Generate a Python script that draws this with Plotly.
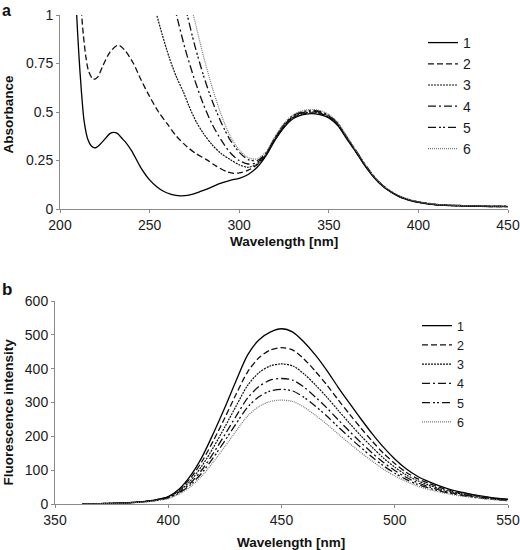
import plotly.graph_objects as go

W, H = 520, 550

# ---------------- Panel a: absorbance ----------------
labels = ["1", "2", "3", "4", "5", "6"]

tail_x = [315, 320, 325, 330, 335, 340, 345, 350, 355, 360, 365, 370, 375, 380,
          385, 390, 395, 400, 405, 410, 420, 430, 440, 450]

a1_x = [208.5, 209.3, 210.5, 212, 213.5, 215.5, 217.5, 219.5, 222, 225, 228, 230, 232,
        235, 237, 240, 245, 250, 254, 258, 262, 267, 272, 278, 284, 289, 295, 300, 305, 310]
a1_y = [1.15, 1.0, 0.8, 0.6, 0.45, 0.36, 0.325, 0.315, 0.33, 0.36, 0.39, 0.395, 0.39,
        0.36, 0.34, 0.30, 0.215, 0.15, 0.115, 0.09, 0.076, 0.068, 0.072, 0.089, 0.11,
        0.131, 0.148, 0.158, 0.178, 0.215]
a1_tail = [0.275, 0.355, 0.42, 0.465, 0.485, 0.492, 0.487, 0.47, 0.43, 0.362, 0.295, 0.225,
           0.165, 0.118, 0.085, 0.06, 0.045, 0.034, 0.027, 0.022, 0.017, 0.015, 0.013, 0.012]

a2_x = [211.2, 212.1, 213, 214.5, 216, 218.6, 221, 224, 228, 232.5, 236, 241, 245, 250,
        255, 260, 265, 271, 276, 282, 287, 293, 297, 300, 305, 310]
a2_y = [1.12, 1.0, 0.9, 0.78, 0.71, 0.668, 0.68, 0.74, 0.81, 0.845, 0.82, 0.75, 0.67, 0.58,
        0.5, 0.437, 0.375, 0.32, 0.285, 0.253, 0.222, 0.193, 0.184, 0.186, 0.2, 0.228]
a2_tail = [0.28, 0.358, 0.424, 0.469, 0.489, 0.496, 0.491, 0.473, 0.433, 0.365, 0.297, 0.227,
           0.166, 0.119, 0.086, 0.061, 0.046, 0.035, 0.028, 0.022, 0.017, 0.015, 0.013, 0.012]

a3_x = [252, 254, 257, 261, 265, 269, 272, 276, 280, 285, 290, 295, 300, 305, 310]
a3_y = [1.07, 1.0, 0.9, 0.78, 0.68, 0.6, 0.53, 0.45, 0.39, 0.33, 0.285, 0.255, 0.228, 0.215, 0.232]
a3_tail = [0.283, 0.362, 0.428, 0.473, 0.493, 0.5, 0.495, 0.476, 0.436, 0.367, 0.299, 0.229,
           0.168, 0.12, 0.087, 0.062, 0.047, 0.036, 0.028, 0.023, 0.018, 0.016, 0.014, 0.013]

a4_x = [263.5, 265, 270, 275, 280, 285, 290, 295, 300, 305, 310]
a4_y = [1.06, 1.0, 0.82, 0.67, 0.54, 0.435, 0.355, 0.29, 0.25, 0.232, 0.24]
a4_tail = [0.287, 0.366, 0.432, 0.477, 0.497, 0.504, 0.499, 0.48, 0.439, 0.37, 0.301, 0.231,
           0.169, 0.121, 0.088, 0.063, 0.047, 0.036, 0.029, 0.023, 0.018, 0.016, 0.014, 0.013]

a5_x = [269.5, 271, 275, 280, 285, 290, 295, 300, 305, 310]
a5_y = [1.06, 1.0, 0.85, 0.69, 0.555, 0.445, 0.355, 0.293, 0.255, 0.25]
a5_tail = [0.29, 0.37, 0.436, 0.481, 0.501, 0.508, 0.503, 0.483, 0.442, 0.372, 0.303, 0.233,
           0.17, 0.122, 0.089, 0.064, 0.048, 0.037, 0.029, 0.024, 0.019, 0.017, 0.015, 0.014]

a6_x = [273, 274.4, 280, 285, 290, 295, 300, 305, 310]
a6_y = [1.05, 1.0, 0.79, 0.625, 0.485, 0.375, 0.305, 0.265, 0.258]
a6_tail = [0.295, 0.375, 0.441, 0.486, 0.506, 0.513, 0.508, 0.487, 0.446, 0.375, 0.305, 0.235,
           0.172, 0.123, 0.09, 0.065, 0.049, 0.038, 0.03, 0.024, 0.019, 0.017, 0.015, 0.014]

abs_x = [a1_x + tail_x, a2_x + tail_x, a3_x + tail_x, a4_x + tail_x, a5_x + tail_x, a6_x + tail_x]
abs_y = [a1_y + a1_tail, a2_y + a2_tail, a3_y + a3_tail, a4_y + a4_tail, a5_y + a5_tail, a6_y + a6_tail]

# ---------------- Panel b: fluorescence ----------------
fl_x = [362, 370, 380, 385, 390, 395, 400, 405, 410, 415, 420, 425, 430, 435, 440, 445,
        450, 455, 460, 465, 470, 475, 480, 485, 490, 495, 500, 505, 510, 515, 520, 525,
        530, 535, 540, 545, 550]
f1 = [0, 1, 3, 5, 8, 13, 22, 45, 85, 140, 210, 285, 365, 440, 485, 508, 518, 508, 478, 440,
      395, 345, 298, 252, 208, 168, 133, 104, 82, 66, 53, 42, 34, 27, 22, 17, 14]
f2 = [0, 1, 3, 5, 8, 13, 21, 42, 78, 127, 188, 255, 325, 390, 432, 455, 462, 455, 428, 392,
      352, 308, 266, 225, 186, 150, 120, 94, 75, 61, 49, 39, 32, 26, 21, 16, 13]
f3 = [0, 1, 3, 5, 8, 12, 20, 39, 70, 114, 168, 228, 290, 350, 388, 408, 414, 408, 384, 352,
      316, 277, 239, 202, 168, 136, 109, 86, 69, 56, 45, 36, 29, 24, 19, 15, 12]
f4 = [0, 1, 3, 5, 7, 11, 19, 36, 63, 102, 151, 205, 260, 313, 347, 366, 371, 366, 345, 316,
      284, 249, 215, 182, 151, 123, 99, 79, 63, 51, 41, 33, 27, 22, 18, 14, 11]
f5 = [0, 1, 3, 4, 7, 11, 18, 33, 58, 93, 138, 187, 238, 286, 317, 334, 339, 334, 315, 289,
      260, 228, 197, 167, 139, 113, 91, 73, 58, 47, 38, 31, 25, 20, 16, 13, 10]
f6 = [0, 1, 2, 4, 6, 10, 16, 30, 52, 84, 125, 170, 216, 260, 288, 303, 307, 303, 286, 262,
      236, 207, 179, 152, 127, 103, 83, 67, 53, 43, 35, 28, 23, 19, 15, 12, 10]
fl_y = [f1, f2, f3, f4, f5, f6]

# axis ticks
abs_xticks = [200, 250, 300, 350, 400, 450]
abs_yticks = [0, 0.25, 0.5, 0.75, 1]
abs_yticktext = ["0", "0.25", "0.5", "0.75", "1"]
fl_xticks = [350, 400, 450, 500, 550]
fl_yticks = [0, 100, 200, 300, 400, 500, 600]

# ---------------- styling ----------------
dashes = ["solid", "6px,3px", "2px,1px", "8px,3px,2px,3px", "8px,3px,2px,2px,2px,3px", "1px,1px"]
colors = ["#000000", "#111111", "#111111", "#111111", "#111111", "#777777"]
widths = [1.3, 1.3, 1.2, 1.3, 1.3, 1.2]
FONT = "Liberation Sans, Arial, sans-serif"

fig = go.Figure()
for i in range(6):
    fig.add_trace(go.Scatter(
        x=abs_x[i], y=abs_y[i], mode="lines", name=labels[i],
        line=dict(color=colors[i], width=widths[i], dash=dashes[i], shape="spline", smoothing=0.8),
        xaxis="x", yaxis="y", legend="legend"))
for i in range(6):
    fig.add_trace(go.Scatter(
        x=fl_x, y=fl_y[i], mode="lines", name=labels[i],
        line=dict(color=colors[i], width=widths[i], dash=dashes[i], shape="spline", smoothing=0.8),
        xaxis="x2", yaxis="y2", legend="legend2"))


def px(x):
    return x / W


def py(y):
    return 1 - y / H


axis_common = dict(showline=True, linecolor="#8a8a8a", linewidth=1, ticks="outside", ticklen=3,
                   tickcolor="#8a8a8a", tickwidth=1, showgrid=False, zeroline=False,
                   tickfont=dict(family=FONT, size=14, color="#1a1a1a"))

fig.update_layout(
    width=W, height=H, margin=dict(l=0, r=0, t=0, b=0, autoexpand=False),
    paper_bgcolor="white", plot_bgcolor="white",
    font=dict(family=FONT, color="#1a1a1a"),
    xaxis=dict(domain=[px(60), px(508)], range=[200, 450], tickvals=abs_xticks,
               anchor="y", **axis_common),
    yaxis=dict(domain=[py(209), py(15)], range=[0, 1], tickvals=abs_yticks,
               ticktext=abs_yticktext, anchor="x", **axis_common),
    xaxis2=dict(domain=[px(55), px(508)], range=[350, 550], tickvals=fl_xticks,
                anchor="y2", **axis_common),
    yaxis2=dict(domain=[py(504), py(301)], range=[0, 600], tickvals=fl_yticks,
                anchor="x2", **axis_common),
    legend=dict(x=px(423), y=py(27), xanchor="left", yanchor="top",
                bgcolor="rgba(0,0,0,0)", font=dict(family=FONT, size=14, color="#1a1a1a"),
                tracegroupgap=0),
    legend2=dict(x=px(417), y=py(311), xanchor="left", yanchor="top",
                 bgcolor="rgba(0,0,0,0)", font=dict(family=FONT, size=12.5, color="#1a1a1a"),
                 tracegroupgap=0),
    showlegend=True,
)

ann = [
    dict(text="<b>a</b>", x=px(0), y=1.0, xanchor="left", yanchor="top", size=16, angle=0),
    dict(text="<b>b</b>", x=px(0), y=py(289), xanchor="left", yanchor="middle", size=17, angle=0),
    dict(text="<b>Absorbance</b>", x=px(7.5), y=py(114), xanchor="center", yanchor="middle", size=13.5, angle=-90),
    dict(text="<b>Fluorescence intensity</b>", x=px(7.5), y=py(412), xanchor="center", yanchor="middle", size=13.5, angle=-90),
    dict(text="<b>Wavelength [nm]</b>", x=px(284), y=py(242), xanchor="center", yanchor="middle", size=13.5, angle=0),
    dict(text="<b>Wavelength [nm]</b>", x=px(291), y=py(542), xanchor="center", yanchor="middle", size=13.5, angle=0),
]
for a in ann:
    fig.add_annotation(text=a["text"], x=a["x"], y=a["y"], xref="paper", yref="paper",
                       xanchor=a["xanchor"], yanchor=a["yanchor"], showarrow=False,
                       textangle=a["angle"], font=dict(family=FONT, size=a["size"], color="#111111"))

fig.write_html("out.html", post_script="document.body.style.margin='0';",
               config={"displayModeBar": False})
